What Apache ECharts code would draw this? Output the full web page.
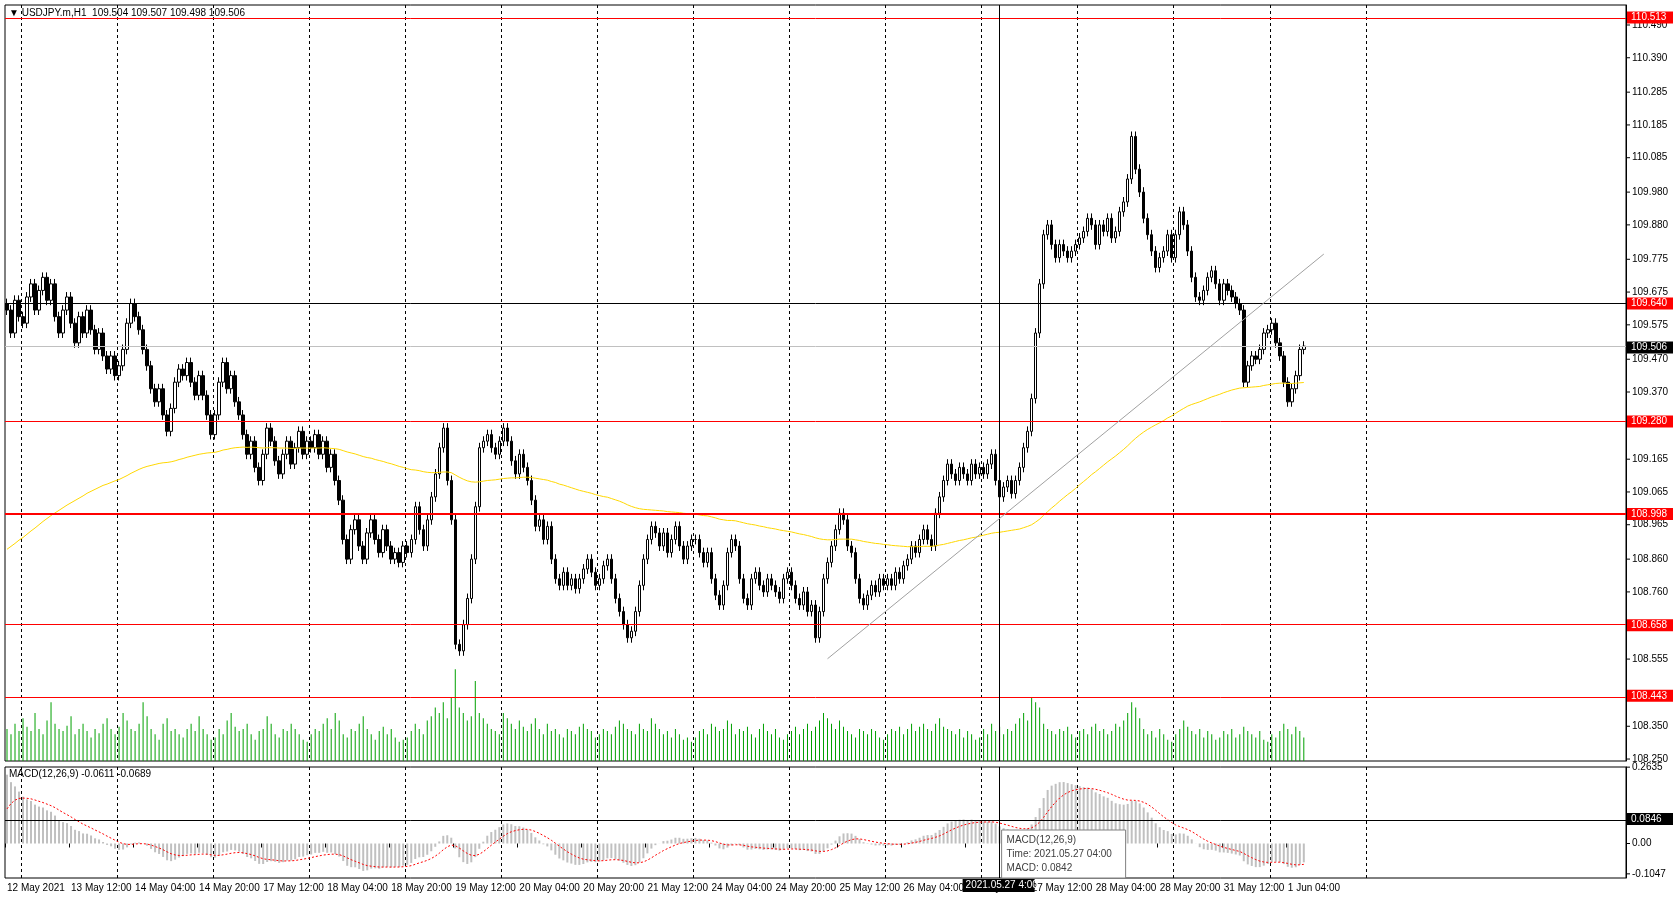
<!DOCTYPE html>
<html><head><meta charset="utf-8">
<script src="https://cdn.jsdelivr.net/npm/echarts@6/dist/echarts.min.js"></script>
<style>html,body{margin:0;padding:0;background:#fff}#c{width:1673px;height:897px}</style>
</head><body><div id="c"></div>
<script>
// ---- DATA ----
const closeByDay = [
 [109.62,109.55,109.65,109.60],
 [109.58,109.66,109.70,109.62,109.68,109.72,109.65,109.70,109.60,109.55,109.62,109.66,109.58,109.52,109.60,109.55,109.62,109.56,109.50,109.55,109.48,109.44,109.48,109.42],
 [109.45,109.50,109.58,109.64,109.60,109.56,109.50,109.45,109.38,109.34,109.38,109.30,109.25,109.32,109.40,109.44,109.42,109.46,109.40,109.36,109.42,109.36,109.30,109.24],
 [109.30,109.40,109.46,109.38,109.42,109.34,109.30,109.24,109.18,109.22,109.14,109.10,109.18,109.26,109.22,109.16,109.12,109.18,109.22,109.15,109.20,109.25,109.18,109.22],
 [109.20,109.24,109.18,109.22,109.14,109.18,109.10,109.04,108.92,108.86,108.95,108.98,108.90,108.86,108.94,108.98,108.92,108.88,108.95,108.90,108.86,108.88,108.85,108.90],
 [108.88,108.92,109.02,108.95,108.90,108.98,109.05,109.12,109.20,109.26,109.10,108.98,108.60,108.58,108.66,108.74,108.86,109.02,109.20,109.22,109.24,109.20,109.18,109.22],
 [109.26,109.22,109.16,109.12,109.18,109.14,109.10,109.04,108.96,108.98,108.92,108.96,108.86,108.80,108.78,108.82,108.78,108.80,108.77,108.80,108.83,108.86,108.82,108.78],
 [108.80,108.84,108.86,108.80,108.74,108.70,108.66,108.62,108.64,108.70,108.78,108.86,108.92,108.96,108.94,108.90,108.94,108.88,108.92,108.96,108.90,108.86,108.90,108.92],
 [108.92,108.88,108.85,108.88,108.80,108.75,108.72,108.78,108.88,108.92,108.90,108.80,108.74,108.72,108.80,108.82,108.78,108.76,108.80,108.78,108.76,108.74,108.80,108.82],
 [108.78,108.74,108.72,108.76,108.70,108.72,108.62,108.70,108.80,108.85,108.90,108.95,109.00,108.98,108.90,108.88,108.80,108.74,108.72,108.75,108.78,108.76,108.80,108.78],
 [108.80,108.78,108.82,108.80,108.84,108.86,108.90,108.88,108.92,108.95,108.92,108.90,109.00,109.05,109.10,109.15,109.12,109.10,109.14,109.12,109.10,109.15,109.12,109.14],
 [109.12,109.15,109.18,109.10,109.05,109.08,109.10,109.06,109.10,109.14,109.20,109.25,109.35,109.55,109.70,109.85,109.88,109.82,109.78,109.82,109.80,109.78,109.80,109.82],
 [109.84,109.86,109.90,109.88,109.82,109.88,109.86,109.90,109.84,109.86,109.92,109.95,110.02,110.15,110.05,109.98,109.90,109.85,109.80,109.75,109.78,109.80,109.85,109.78],
 [109.85,109.92,109.88,109.80,109.72,109.66,109.65,109.68,109.72,109.74,109.70,109.65,109.70,109.68,109.66,109.64,109.62,109.40,109.45,109.48,109.47,109.50,109.55,109.56],
 [109.58,109.52,109.48,109.40,109.34,109.38,109.42,109.50,109.51]
];
const volByDay = [
 [30,25,35,28],
 [40,32,28,45,30,25,38,55,35,30,28,33,42,25,30,35,28,22,30,26,35,40,30,25],
 [32,45,38,30,28,35,55,42,30,25,20,35,40,28,30,25,22,30,35,28,42,30,25,20],
 [22,30,25,38,45,32,28,30,35,25,20,28,30,42,35,25,22,30,28,35,30,25,20,18],
 [25,30,28,35,40,30,45,38,25,22,30,28,35,42,30,25,20,28,32,25,30,22,18,20],
 [22,28,35,30,25,38,42,50,45,55,40,60,86,50,45,38,42,75,45,40,35,30,28,25],
 [45,40,35,30,38,32,28,35,40,30,25,35,28,30,25,22,30,28,25,32,35,30,28,22],
 [25,30,28,25,32,38,35,30,28,25,35,30,28,40,35,30,25,28,22,30,25,20,22,18],
 [22,28,30,25,35,32,28,30,38,35,25,30,28,32,25,22,30,35,28,25,30,22,20,25],
 [28,32,25,30,35,28,32,38,45,40,35,30,38,32,28,25,22,30,28,25,30,28,22,20],
 [25,30,28,32,25,30,35,28,32,35,30,28,35,40,32,30,28,25,30,22,28,25,20,22],
 [30,25,35,28,32,25,30,28,35,40,45,38,60,55,50,35,30,28,25,30,28,32,25,22],
 [28,30,25,32,35,28,30,25,28,35,32,38,45,55,50,40,30,25,28,22,30,25,20,18],
 [25,30,38,32,28,25,30,22,28,25,20,22,28,25,30,22,25,32,28,25,22,28,20,18],
 [25,22,28,35,30,25,32,28,22]
];
const priceTicks = [110.490,110.390,110.285,110.185,110.085,109.980,109.880,109.775,109.675,109.575,109.470,109.370,109.165,109.065,108.965,108.860,108.760,108.555,108.350,108.250];
const redLevels = [110.513,109.640,109.280,108.998,108.658,108.443];
const bidLevel = 109.506;
const trendLine = [[205,108.556],[329,109.791]];
const macdTicks = [0.2635,0.00,-0.1047];
const macdLevel = 0.0846;
const crossIdx = 248;

// ---- BUILD ----
const closes = [].concat(...closeByDay);
const vols = [].concat(...volByDay);
const N = 405;
const months=['Jan','Feb','Mar','Apr','May','Jun'];
const cats=[]; let t=Date.UTC(2021,4,12,20);
while(cats.length<N){const d=new Date(t);const wd=d.getUTCDay();
 if(wd!==0&&wd!==6){cats.push(d.getUTCDate()+' '+months[d.getUTCMonth()]+' '+String(d.getUTCHours()).padStart(2,'0')+':00');}
 t+=3600000;}
const ohlc=closes.map((c,i)=>{const o=i?closes[i-1]:c+0.02;return [o,c,Math.min(o,c)-0.015,Math.max(o,c)+0.015];});
let e12=109.66,e26=109.40,sig=0.09,ma=108.88;const macd=[],signal=[],maL=[];
closes.forEach(c=>{e12+= (c-e12)*2/13; e26+=(c-e26)*2/27; const m=e12-e26; sig+=(m-sig)*0.2; ma+=(c-ma)*2/151;
 macd.push(+m.toFixed(4)); signal.push(+sig.toFixed(4)); maL.push(+ma.toFixed(3));});

const F='Liberation Sans';
const chart=echarts.init(document.getElementById('c'));
const splitDash={show:true,interval:(i)=>i%24===4&&i<=340,lineStyle:{color:'#000',type:[3,3],width:1}};
const lblInt=(i)=>i%16===0&&i<=320;
chart.setOption({
 animation:false,
 grid:[{left:5,right:47,top:5,height:756,show:true,borderColor:'#000',borderWidth:1},
       {left:5,right:47,top:767,height:111,show:true,borderColor:'#000',borderWidth:1}],
 xAxis:[{type:'category',data:cats,gridIndex:0,axisLine:{show:false},axisTick:{show:false},axisLabel:{show:false},splitLine:splitDash},
        {type:'category',data:cats,gridIndex:1,axisLine:{show:false},axisTick:{show:true,interval:lblInt,length:4,lineStyle:{color:'#000'}},
         axisLabel:{interval:lblInt,showMinLabel:true,hideOverlap:false,align:'left',margin:5,fontFamily:F,fontSize:10,color:'#000',formatter:(v,i)=>i===0?'12 May 2021':v},splitLine:splitDash}],
 yAxis:[{type:'value',gridIndex:0,min:108.244,max:110.551,position:'right',axisLine:{show:true,lineStyle:{color:'#000'}},axisLabel:{show:false},axisTick:{show:false},splitLine:{show:false}},
        {type:'value',gridIndex:0,min:0,max:708,show:false,splitLine:{show:false}},
        {type:'value',gridIndex:1,min:-0.119,max:0.264,position:'right',axisLine:{show:true,lineStyle:{color:'#000'}},axisLabel:{show:false},axisTick:{show:false},splitLine:{show:false}}],
 series:[
  {type:'bar',xAxisIndex:0,yAxisIndex:1,data:vols,barWidth:1,itemStyle:{color:'#00a000'},silent:true},
  {type:'line',xAxisIndex:0,yAxisIndex:0,data:maL,symbol:'none',lineStyle:{color:'#ffd700',width:1},silent:true},
  {type:'candlestick',xAxisIndex:0,yAxisIndex:0,data:ohlc,barWidth:3,
   itemStyle:{color:'#ffffff',color0:'#000000',borderColor:'#000000',borderColor0:'#000000',borderWidth:1},
   markLine:{silent:true,symbol:'none',label:{show:false},animation:false,data:[
     ...redLevels.map(v=>({yAxis:v,lineStyle:{color:v===109.640?'#000':'#ff0000',width:v===108.998?2:1,type:'solid'}})),
     {yAxis:bidLevel,lineStyle:{color:'#c0c0c0',width:1,type:'solid'}},
     {xAxis:crossIdx,lineStyle:{color:'#000',width:1,type:'solid'}},
     [{coord:trendLine[0]},{coord:trendLine[1],lineStyle:{color:'#a0a0a0',width:1,type:'solid'}}]
   ]}},
  {type:'bar',xAxisIndex:1,yAxisIndex:2,data:macd,barWidth:2,itemStyle:{color:'#c0c0c0'},silent:true,
   markLine:{silent:true,symbol:'none',label:{show:false},data:[{yAxis:macdLevel,lineStyle:{color:'#000',width:1,type:'solid'}},{xAxis:crossIdx,lineStyle:{color:'#000',width:1,type:'solid'}}]}},
  {type:'line',xAxisIndex:1,yAxisIndex:2,data:signal,symbol:'none',lineStyle:{color:'#ff0000',width:1,type:[2,2]},silent:true}
 ]
});
const g=[];
const px=(y,ax)=>chart.convertToPixel({yAxisIndex:ax},y);
priceTicks.forEach(v=>{const y=px(v,0);g.push({type:'line',shape:{x1:1626,y1:y,x2:1630,y2:y},style:{stroke:'#000'}});
 g.push({type:'text',x:1632,y:y,style:{text:v.toFixed(3),fill:'#000',font:'10px '+F,textVerticalAlign:'middle'}});});
const box=(v,ax,bg,txt)=>{const y=px(v,ax);g.push({type:'rect',shape:{x:1627,y:y-6,width:46,height:12},style:{fill:bg}});
 g.push({type:'text',x:1631,y:y,style:{text:txt,fill:'#fff',font:'10px '+F,textVerticalAlign:'middle'}});};
redLevels.forEach(v=>box(v,0,'#ff0000',v.toFixed(3)));
box(bidLevel,0,'#000',bidLevel.toFixed(3));
macdTicks.forEach(v=>{const y=px(v,2);g.push({type:'line',shape:{x1:1626,y1:y,x2:1630,y2:y},style:{stroke:'#000'}});
 g.push({type:'text',x:1632,y:y,style:{text:v===0?'0.00':v.toFixed(4),fill:'#000',font:'10px '+F,textVerticalAlign:'middle'}});});
box(macdLevel,2,'#000',macdLevel.toFixed(4));
g.push({type:'text',x:9,y:13,style:{text:'▼ USDJPY.m,H1  109.504 109.507 109.498 109.506',fill:'#000',font:'10px '+F,textVerticalAlign:'middle'}});
g.push({type:'text',x:9,y:774,style:{text:'MACD(12,26,9) -0.0611 -0.0689',fill:'#000',font:'10px '+F,textVerticalAlign:'middle'}});
const cx=chart.convertToPixel({xAxisIndex:1},crossIdx);
g.push({type:'rect',shape:{x:cx-37,y:879,width:72,height:13},style:{fill:'#000'}});
g.push({type:'text',x:cx-34,y:885.5,style:{text:'2021.05.27 4:00',fill:'#fff',font:'10px '+F,textVerticalAlign:'middle'}});
g.push({type:'rect',shape:{x:cx+2,y:830,width:124,height:48},style:{fill:'#fff',stroke:'#808080'}});
g.push({type:'text',x:cx+7,y:833,style:{text:'MACD(12,26,9)\nTime: 2021.05.27 04:00\nMACD: 0.0842',fill:'#404040',font:'10px '+F,lineHeight:14}});
g.forEach(e=>{e.z=100;});
chart.setOption({graphic:g});
</script></body></html>
